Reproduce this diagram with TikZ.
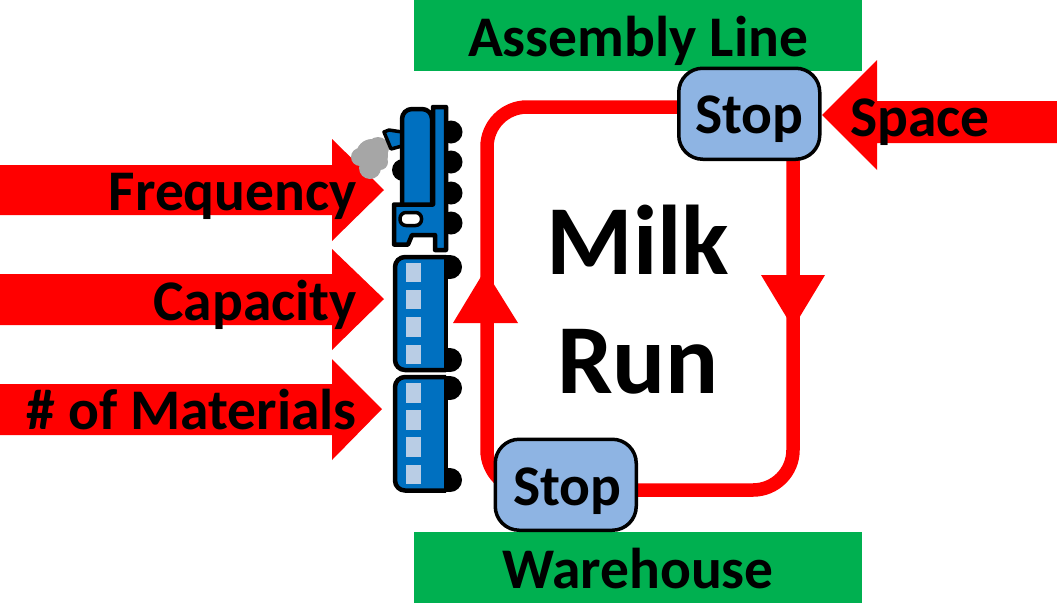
\documentclass[tikz,border=0pt]{standalone}
\usepackage{fontspec}
\setmainfont{Carlito}
\definecolor{grn}{HTML}{00B050}
\definecolor{stopblue}{HTML}{8EB4E3}
\definecolor{trainblue}{HTML}{0070C0}
\definecolor{winblue}{HTML}{B9CDE5}
\definecolor{smoke}{HTML}{A6A6A6}
\tikzset{
  x=1pt,y=-1pt,
  band/.style={fill=grn,draw=none,minimum width=448pt,minimum height=71pt,inner sep=0pt},
  stopbox/.style={fill=stopblue,draw=black,line width=3.5pt,rounded corners=24pt,minimum width=141pt,minimum height=91pt,inner sep=0pt},
  loopline/.style={draw=red,line width=13.5pt},
  redfill/.style={fill=red,draw=none},
  lab/.style={font=\bfseries\fontsize{57.5}{57.5}\selectfont,inner sep=0pt},
  bigword/.style={font=\bfseries\fontsize{99}{99}\selectfont,inner sep=0pt,anchor=base},
  trainpart/.style={fill=trainblue,draw=black,line width=4.5pt,line join=round},
  wheel/.style={fill=black,draw=none},
  pane/.style={fill=winblue,draw=none},
}
\begin{document}
\begin{tikzpicture}
\useasboundingbox (0,0) rectangle (1057,603);
\node[band,anchor=north west] (line) at (414,0) {};
\node[band,anchor=north west] (wh) at (414,532) {};
\node[lab,anchor=base] (linet) at (638,56) {Assembly Line};
\node[lab,anchor=base] (wht) at (638,588) {Warehouse};
% loop
\coordinate (tl) at (487,107);
\coordinate (tr) at (793,107);
\coordinate (br) at (793,490);
\coordinate (bl) at (487,490);
\coordinate (startA) at (700,107);
\coordinate (startB) at (793,150);
\coordinate (endB) at (620,490);
\coordinate (endA) at (520,490);
\draw[loopline,rounded corners=40pt] (startA) -- (tl) -- (bl) -- (endA);
\draw[loopline,rounded corners=40pt] (startB) -- (br) -- (endB);
\fill[red] (761,275) -- (825,275) -- (793,328) -- cycle;
\fill[red] (453,323) -- (518,323) -- (485,270) -- cycle;
\node[stopbox,anchor=north west] (s1) at (677,66.5) {};
\node[stopbox,anchor=north west] (s2) at (493.5,437.5) {};
\node[lab,anchor=base] (s1t) at (749.5,133) {Stop};
\node[lab,anchor=base] (s2t) at (567.5,505) {Stop};
% block arrows
\fill[redfill] (0,165) -- (332,165) -- (332,139) -- (384,190) -- (332,241) -- (332,215) -- (0,215) -- cycle;
\fill[redfill] (0,274) -- (332,274) -- (332,249) -- (384,299) -- (332,350) -- (332,325) -- (0,325) -- cycle;
\fill[redfill] (0,384) -- (332,384) -- (332,359) -- (382,409) -- (332,460) -- (332,435) -- (0,435) -- cycle;
\fill[redfill] (1057,101) -- (877,101) -- (877,60) -- (822,115) -- (877,170) -- (877,143) -- (1057,143) -- cycle;
% locomotive
\foreach \wy in {132,162,193,223} \fill[wheel] (451,\wy) circle (11.5);
\fill[wheel] (403,170) circle (11);
\fill[smoke] (372,155) circle (16);
\fill[smoke] (360,157) circle (9);
\fill[smoke] (378,148) circle (11);
\fill[smoke] (370,168) circle (11);
\fill[smoke] (380,162) circle (8);
\draw[trainpart,line width=3.5pt] (384,132) -- (389,130) -- (402,132) -- (402,146) -- (391,149) -- cycle;
\draw[trainpart,rounded corners=10pt] (402,205) -- (402,109) -- (432,109) -- (432,205);
\draw[trainpart] (394,204.5) -- (433,204.5) -- (433,107) -- (446,107) -- (446,250) -- (435,250) -- (435,235) -- (412,235) -- (408,244.5) -- (394,244.5) -- cycle;
\draw[fill=white,draw=black,line width=3.5pt,rounded corners=6pt] (400,212.5) rectangle (421.5,225.5);
% cars
\foreach \wy in {267,360,388,480} {
  \fill[wheel] (450,\wy) circle (12);
  \fill[wheel] (445,\wy-12) rectangle (450,\wy+12);
}
\draw[trainpart,rounded corners=10pt] (446,257) -- (395,257) -- (395,370) -- (446,370);
\draw[trainpart] (446,257) -- (446,370);
\draw[trainpart,rounded corners=10pt] (446,377) -- (395,377) -- (395,490.5) -- (446,490.5);
\draw[trainpart] (446,377) -- (446,490.5);
\foreach \ya/\yb in {263/282,290/309,317/337,345/364,383/403,410/430,437/457,465/484}
  \fill[pane] (406,\ya) rectangle (421,\yb);
% text
\node[lab,anchor=base east] (fq) at (357,210) {Frequency};
\node[lab,anchor=base east] (cp) at (357,320) {Capacity};
\node[lab,anchor=base east] (mt) at (357,429) {\# of Materials};
\node[lab,anchor=base west] (sp) at (850,136) {Space};
\node[bigword] (milk) at (638,274) {Milk};
\node[bigword] (run) at (638,393) {Run};
\end{tikzpicture}
\end{document}
